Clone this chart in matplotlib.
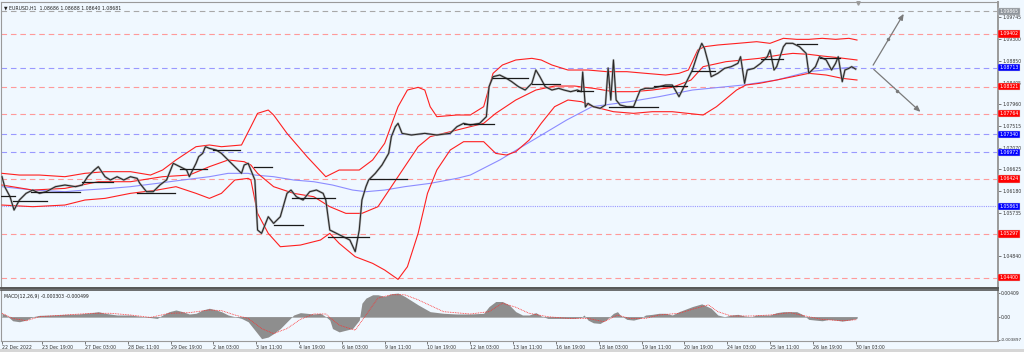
import matplotlib
matplotlib.use("Agg")
import matplotlib.pyplot as plt
import matplotlib.transforms as mtransforms
from matplotlib.patches import Rectangle

# ---------------- data ----------------
close_idx = [0, 2, 6, 9, 13, 18, 23, 28, 33, 40, 47, 55, 60, 64, 69, 72, 77, 81, 86, 91,
             96, 101, 103, 108, 113, 118, 123, 128, 133, 138, 140, 145, 147, 150, 152, 155, 160, 164, 169, 174,
             179, 181, 184, 186, 189, 191, 194, 199, 201, 203, 208, 213, 216, 220, 225, 230, 235, 240, 242, 245,
             250, 255, 260, 264, 267, 269, 272, 274, 279, 284, 289, 291, 294, 296, 299, 306, 316, 325, 335, 340,
             345, 350, 357, 362, 364, 367, 372, 377, 381, 386, 391, 396, 399, 402, 406, 411, 416, 420, 425, 430,
             433, 434, 436, 438, 442, 447, 451, 453, 455, 457, 459, 462, 467, 472,
             477, 481, 486, 491, 496, 501, 506, 511, 516, 520,
             523, 525, 528, 530, 535, 540, 545, 550, 552, 555, 557, 562, 567, 572, 574, 577, 579, 584, 586, 591,
             596, 601, 603, 608, 611, 616, 620, 623, 625, 628, 630, 633, 635, 638]
close_price = [1.06471, 1.06266, 1.06060, 1.05786, 1.05992, 1.06129, 1.06197, 1.06129, 1.06163, 1.06266,
               1.06300, 1.06266, 1.06300, 1.06471, 1.06608, 1.06677, 1.06471, 1.06403, 1.06471, 1.06403,
               1.06471, 1.06437, 1.06334, 1.06163, 1.06163, 1.06300, 1.06403, 1.06745, 1.06677, 1.06608,
               1.06471, 1.06745, 1.06882, 1.06950, 1.07087, 1.07053, 1.07019, 1.06950, 1.06814, 1.06677,
               1.06540, 1.06711, 1.06745, 1.06608, 1.06403, 1.05376, 1.05307, 1.05649, 1.05581, 1.05512,
               1.05649, 1.06129, 1.06197, 1.06060, 1.05992, 1.06163, 1.06197, 1.06129, 1.05992, 1.05376,
               1.05307, 1.05239, 1.05170, 1.04931, 1.05376, 1.05992, 1.06266, 1.06403, 1.06540, 1.06711,
               1.06950, 1.07293, 1.07498, 1.07567, 1.07361, 1.07327, 1.07361, 1.07327, 1.07361, 1.07498,
               1.07567, 1.07532, 1.07567, 1.07704, 1.08320, 1.08525, 1.08559, 1.08491, 1.08422, 1.08320,
               1.08251, 1.08388, 1.08662, 1.08525, 1.08320, 1.08251, 1.08286, 1.08251, 1.08217, 1.08251,
               1.08217, 1.08621, 1.07902, 1.07977, 1.07909, 1.07875, 1.07943, 1.08703, 1.08046, 1.08868,
               1.08046, 1.07943, 1.07909, 1.07909,
               1.08251, 1.08286, 1.08286, 1.08320, 1.08354, 1.08354, 1.08114, 1.08388, 1.08662, 1.09004,
               1.09210, 1.09107, 1.08799, 1.08525, 1.08594, 1.08696, 1.08731, 1.08799, 1.08936, 1.08388,
               1.08662, 1.08696, 1.08799, 1.08936, 1.09073, 1.08662, 1.08731, 1.09141, 1.09210, 1.09210,
               1.09141, 1.09004, 1.08594, 1.08731, 1.08936, 1.08868, 1.08662, 1.08799, 1.08936, 1.08422,
               1.08662, 1.08696, 1.08731, 1.08681]

bb_upper_idx = [0, 13, 28, 47, 62, 77, 96, 111, 120, 130, 145, 155, 164, 179, 186, 191, 199, 203, 213, 228,
                242, 252, 267, 277, 286, 296, 303, 311, 316, 320, 325, 340, 350, 360, 367, 374, 384, 396, 403, 411,
                423, 438, 452, 467, 481, 496, 506, 513, 520, 525, 535, 550, 564, 574, 584, 594, 603, 613, 623, 633, 639]
bb_upper = [1.06540, 1.06505, 1.06505, 1.06471, 1.06540, 1.06574, 1.06574, 1.06505, 1.06608, 1.06814,
            1.07087, 1.07122, 1.07087, 1.07122, 1.07498, 1.07772, 1.07840, 1.07738, 1.07361, 1.06882,
            1.06471, 1.06608, 1.06608, 1.06814, 1.07156, 1.07909, 1.08251, 1.08306, 1.08251, 1.07909,
            1.07704, 1.07738, 1.07738, 1.07909, 1.08594, 1.08765, 1.08868, 1.08902, 1.08868, 1.08765,
            1.08662, 1.08662, 1.08628, 1.08628, 1.08594, 1.08559, 1.08594, 1.08662, 1.09073, 1.09141,
            1.09176, 1.09210, 1.09244, 1.09210, 1.09313, 1.09292, 1.09292, 1.09313, 1.09292, 1.09313, 1.09278]

bb_mid_idx = [0, 23, 47, 72, 96, 120, 140, 155, 169, 181, 186, 191, 203, 218, 233, 245, 257, 269, 281, 291,
              301, 311, 320, 335, 350, 360, 369, 384, 399, 413, 428, 442, 457, 472, 486, 501, 515, 524, 541, 566,
              581, 591, 603, 613, 623, 639]
bb_mid = [1.06300, 1.06197, 1.06231, 1.06368, 1.06368, 1.06471, 1.06505, 1.06677, 1.06814, 1.06779,
          1.06711, 1.06540, 1.06266, 1.06129, 1.06060, 1.05855, 1.05718, 1.05718, 1.05855, 1.06266,
          1.06677, 1.07087, 1.07293, 1.07395, 1.07498, 1.07567, 1.07772, 1.08046, 1.08251, 1.08333,
          1.08333, 1.08286, 1.08217, 1.08217, 1.08251, 1.08306, 1.08457, 1.08731, 1.08833, 1.08902,
          1.08970, 1.09004, 1.08984, 1.08950, 1.08922, 1.08868]

bb_lower_idx = [0, 23, 47, 62, 77, 96, 116, 130, 145, 155, 164, 174, 184, 186, 191, 199, 208, 223, 238, 245,
                252, 264, 277, 286, 296, 303, 311, 318, 325, 335, 345, 360, 369, 377, 384, 394, 403, 413, 423, 433,
                442, 457, 472, 486, 501, 524, 534, 549, 556, 566, 579, 591, 603, 616, 628, 639]
bb_lower = [1.05889, 1.05855, 1.05889, 1.05992, 1.06026, 1.06129, 1.06197, 1.06266, 1.06129, 1.06026,
            1.06129, 1.06403, 1.06437, 1.06403, 1.05718, 1.05307, 1.05033, 1.05067, 1.05170, 1.05307,
            1.05102, 1.04828, 1.04691, 1.04554, 1.04362, 1.04622, 1.05307, 1.06129, 1.06608, 1.07019,
            1.07190, 1.07190, 1.06950, 1.06916, 1.06985, 1.07224, 1.07567, 1.07909, 1.08046, 1.08012,
            1.07909, 1.07806, 1.07772, 1.07806, 1.07806, 1.07738, 1.07909, 1.08251, 1.08354, 1.08388,
            1.08457, 1.08525, 1.08594, 1.08559, 1.08491, 1.08457]

ma_idx = [0, 23, 47, 62, 81, 96, 116, 135, 155, 169, 184, 189, 203, 218, 233, 247, 262, 272, 286, 301,
          320, 340, 350, 372, 422, 441, 469, 491, 516, 554, 579, 603, 626, 639]
ma_vals = [1.06266, 1.06197, 1.06163, 1.06197, 1.06231, 1.06266, 1.06334, 1.06403, 1.06471, 1.06540,
           1.06540, 1.06505, 1.06471, 1.06403, 1.06368, 1.06300, 1.06197, 1.06163, 1.06197, 1.06266,
           1.06334, 1.06437, 1.06505, 1.06814, 1.07635, 1.07909, 1.08012, 1.08114, 1.08251, 1.08354,
           1.08457, 1.08628, 1.08696, 1.08731]

# daily reference segments: start bar, end bar, price
seg_start = [-1, 8, 22, 60, 101, 133, 158, 188, 203, 217, 244, 275, 345, 367, 396, 430, 454, 487, 516, 567, 594, 611]
seg_end = [10, 34, 58, 83, 129, 153, 178, 202, 225, 249, 274, 303, 368, 393, 417, 442, 490, 512, 533, 584, 609, 626]
seg_price = [1.06074, 1.05971, 1.06156, 1.06362, 1.06136, 1.06629, 1.07019, 1.06670, 1.05478, 1.06033, 1.05232,
             1.06423, 1.07553, 1.08498, 1.08375, 1.08231, 1.07902, 1.08334, 1.08642, 1.08888, 1.09196, 1.08909]

# horizontal levels
level_prices = [1.09865, 1.09402, 1.08713, 1.08321, 1.07764, 1.07340, 1.06972, 1.06424, 1.05863, 1.05297, 1.04400]
level_kinds = ["gray", "red", "blue", "red", "red", "blue", "blue", "red", "bluedot", "red", "red"]

price_ticks = [1.09745, 1.09300, 1.08850, 1.08405, 1.07960, 1.07515, 1.07070, 1.06625, 1.06180, 1.05735, 1.04840]

# analyst projection arrows
arrow_start = (650, 1.08713)
arrow_up_end = (675, 1.09865)
arrow_down_end = (688, 1.07764)

# MACD
macd_idx = [0, 3, 8, 13, 18, 23, 28, 38, 47, 57, 67, 72, 77, 86, 96, 106, 116, 120, 125, 130,
            135, 140, 145, 150, 155, 160, 164, 169, 174, 179, 184, 189, 194, 199, 203, 208, 213, 218, 223, 228,
            233, 238, 242, 245, 247, 252, 257, 262, 267, 269, 272, 277, 281, 286, 291, 296, 301, 311, 320, 330,
            340, 350, 360, 364, 369, 374, 379, 384, 389, 394, 399, 403, 408, 418, 428, 433, 435, 438, 442, 447,
            452, 457, 460, 462, 467, 472, 477, 481, 486, 491, 496, 501, 506, 516, 523, 530, 535, 540, 545, 550,
            555, 560, 564, 574, 579, 584, 594, 599, 603, 608, 613, 618, 623, 628, 633, 639]
macd_hist = [0.00058, 0.00029, -0.00069, -0.00086, -0.00058, 0.0, 0.00023, 0.00029, 0.00040, 0.00046,
             0.00069, 0.00086, 0.00058, 0.00029, 0.00029, 0.0, -0.00029, 0.00029, 0.00086, 0.00115,
             0.00086, 0.00046, 0.00058, 0.00115, 0.00144, 0.00115, 0.00086, 0.00029, 0.0, -0.00029,
             -0.00086, -0.00230, -0.00374, -0.00346, -0.00288, -0.00202, -0.00086, 0.00029, 0.00069, 0.00058,
             0.00046, 0.00058, 0.0, -0.00058, -0.00202, -0.00259, -0.00230, -0.00202, -0.00058, 0.00230,
             0.00317, 0.00374, 0.00374, 0.00346, 0.00392, 0.00403, 0.00346, 0.00202, 0.00086, 0.00058,
             0.00046, 0.00046, 0.00058, 0.00173, 0.00259, 0.00259, 0.00202, 0.00086, 0.00029, 0.00029,
             0.00069, 0.00012, -0.00029, -0.00029, -0.00029, -0.00012, 0.00029, -0.00058, -0.00104, -0.00115,
             -0.00046, 0.00058, 0.00086, 0.00029, -0.00046, -0.00058, -0.00029, 0.00029, 0.00040, 0.00058,
             0.00058, 0.00029, 0.00086, 0.00173, 0.00219, 0.00144, 0.00029, 0.0, 0.00029, 0.00040,
             0.00012, 0.0, 0.00029, 0.00029, 0.00069, 0.00086, 0.00086, 0.00029, -0.00046, -0.00058,
             -0.00069, -0.00046, -0.00058, -0.00075, -0.00058, -0.00030]
signal_idx = [0, 8, 18, 28, 47, 67, 81, 96, 111, 125, 140, 155, 164, 174, 184, 194, 203, 213, 223, 233,
              242, 252, 264, 272, 281, 291, 301, 311, 330, 350, 364, 374, 384, 394, 408, 423, 438, 450, 460, 469,
              481, 491, 506, 516, 528, 535, 545, 560, 574, 589, 603, 613, 628, 639]
signal_vals = [0.00058, -0.00029, -0.00069, 0.0, 0.00029, 0.00058, 0.00058, 0.00029, -0.00012, 0.00058,
               0.00069, 0.00115, 0.00104, 0.00029, -0.00029, -0.00202, -0.00288, -0.00202, -0.00046, 0.00046,
               0.00046, -0.00144, -0.00230, 0.00029, 0.00317, 0.00374, 0.00374, 0.00288, 0.00086, 0.00046,
               0.00086, 0.00230, 0.00161, 0.00058, 0.0, -0.00029, -0.00029, -0.00086, 0.00029, -0.00029,
               -0.00029, 0.00029, 0.00058, 0.00127, 0.00202, 0.00086, 0.00012, 0.00012, 0.00029, 0.00069,
               0.0, -0.00046, -0.00069, -0.00050]
macd_ticks = [0.00409, 0.0, -0.003897]
macd_tick_labels = ["0.00409", "0.00", "-0.003897"]

time_tick_idx = [0, 30, 62, 94, 126, 158, 190, 222, 254, 286, 318, 350, 382, 414, 446, 478, 510, 542, 574, 606, 638]
time_tick_labels = ["22 Dec 2022", "23 Dec 19:00", "27 Dec 03:00", "28 Dec 11:00", "29 Dec 19:00", "2 Jan 03:00",
                    "3 Jan 11:00", "4 Jan 19:00", "6 Jan 03:00", "9 Jan 11:00", "10 Jan 19:00", "12 Jan 03:00",
                    "13 Jan 11:00", "16 Jan 19:00", "18 Jan 03:00", "19 Jan 11:00", "20 Jan 19:00", "24 Jan 03:00",
                    "25 Jan 11:00", "26 Jan 19:00", "30 Jan 03:00"]

header_text = "\u25BC EURUSD,H1  1.08686 1.08688 1.08640 1.08681"
macd_text = "MACD(12,26,9) -0.000303 -0.000499"

# ---------------- drawing ----------------
BG = "#f0f8ff"
W, H = 1024, 352
fig = plt.figure(figsize=(W / 100, H / 100), dpi=100, facecolor=BG)

def box(x0, y0, x1, y1):
    return [x0 / W, 1 - y1 / H, (x1 - x0) / W, (y1 - y0) / H]

ax = fig.add_axes(box(1, 2, 998, 288), facecolor=BG)
axm = fig.add_axes(box(1, 290, 998, 341), facecolor=BG, sharex=ax)

XMIN, XMAX = -0.75, 744.4
ax.set_xlim(XMIN, XMAX)
ax.set_ylim(1.04185, 1.10059)
axm.set_ylim(-0.00414, 0.00455)

FS = 3.3

# levels
level_style = {
    "gray": ("#a8a8a8", (0, (5, 3.5)), "#8f959c"),
    "red": ("#ff9a9a", (0, (5, 3.5)), "#ff0000"),
    "blue": ("#9999ff", (0, (5, 3.5)), "#0000ff"),
    "bluedot": ("#9999ff", (0, (1, 1)), "#0000ff"),
}
blend = mtransforms.blended_transform_factory(ax.transAxes, ax.transData)
for p, kind in zip(level_prices, level_kinds):
    lc, ls, bc = level_style[kind]
    ax.axhline(p, color=lc, lw=0.8, ls=ls, zorder=1)
    ax.text(1.0015, p, f"{p:.5f}", transform=blend, fontsize=FS, color="white", va="center", ha="left",
            clip_on=False, zorder=10,
            bbox=dict(boxstyle="square,pad=0.25", fc=bc, ec="#d0d0d0", lw=0.3))

# indicators
ax.plot(ma_idx, ma_vals, color="#8c8cff", lw=0.8, zorder=2)
for xs, ys in ((bb_upper_idx, bb_upper), (bb_mid_idx, bb_mid), (bb_lower_idx, bb_lower)):
    ax.plot(xs, ys, color="#ff2020", lw=0.8, zorder=3)

# price
ax.plot(close_idx, close_price, color="#a0a0a0", lw=1.6, alpha=0.8, zorder=4)
ax.plot(close_idx, close_price, color="#262626", lw=0.75, zorder=5)
for s, e, p in zip(seg_start, seg_end, seg_price):
    ax.plot([s, e], [p, p], color="#1a1a1a", lw=0.9, zorder=5)

# arrows
for end in (arrow_up_end, arrow_down_end):
    ax.annotate("", xy=end, xytext=arrow_start,
                arrowprops=dict(arrowstyle="-|>,head_length=0.35,head_width=0.15", color="#7a7a7a", lw=0.9),
                zorder=6)
    mid = ((arrow_start[0] + end[0]) / 2, (arrow_start[1] + end[1]) / 2)
    ax.plot([mid[0]], [mid[1]], marker="o", ms=1.5, color="#7a7a7a", zorder=6)

ax.plot([close_idx[-1] + 2], [1.1003], marker="v", ms=2.5, color="#9a9a9a", clip_on=False, zorder=7)

ax.text(0.003, 0.988, header_text, transform=ax.transAxes, fontsize=FS, color="#202020", va="top", ha="left")

# axis formatting main
ax.yaxis.tick_right()
ax.set_yticks(price_ticks)
ax.set_yticklabels([f"{v:.5f}" for v in price_ticks])
ax.tick_params(axis="y", labelsize=FS, colors="#444444", length=2, width=0.5, pad=1.0, labelcolor="#333333")
ax.tick_params(axis="x", bottom=False, labelbottom=False)
for side, sp in ax.spines.items():
    sp.set_color("#9a9a9a")
    sp.set_linewidth(0.8)
ax.spines["bottom"].set_color("#555555")
ax.spines["bottom"].set_linewidth(1.4)
ax.spines["right"].set_linewidth(1.4)

# MACD
axm.fill_between(macd_idx, 0, macd_hist, color="#8e8e8e", lw=0, zorder=2)
axm.axhline(0, color="#8e8e8e", lw=0.4, zorder=1, xmax=(639 - XMIN) / (XMAX - XMIN))
axm.plot(signal_idx, signal_vals, color="#ff3030", lw=0.6, ls=(0, (1, 1)), zorder=3)
axm.text(0.003, 0.93, macd_text, transform=axm.transAxes, fontsize=FS, color="#202020", va="top", ha="left")
axm.yaxis.tick_right()
axm.set_yticks(macd_ticks)
axm.set_yticklabels(macd_tick_labels)
axm.tick_params(axis="y", labelsize=FS, colors="#444444", length=1.5, width=0.5, pad=0.6, labelcolor="#333333")
for lbl in axm.get_yticklabels():
    if lbl.get_text().startswith("-"):
        lbl.set_fontsize(3.0)
axm.set_xticks(time_tick_idx)
axm.set_xticklabels(time_tick_labels)
for lbl in axm.get_xticklabels():
    lbl.set_ha("left")
axm.tick_params(axis="x", labelsize=FS, colors="#444444", length=2, width=0.5, pad=1.2, labelcolor="#333333")
for side, sp in axm.spines.items():
    sp.set_color("#9a9a9a")
    sp.set_linewidth(0.8)
axm.spines["top"].set_color("#555555")
axm.spines["top"].set_linewidth(1.2)
axm.spines["right"].set_linewidth(1.4)

# bottom scrollbar strip
fig.patches.append(Rectangle((0, 0), 1, 3.5 / H, transform=fig.transFigure, fc="#d6d6d6", ec="none"))

fig.savefig("out.png", dpi=100, facecolor=BG)
